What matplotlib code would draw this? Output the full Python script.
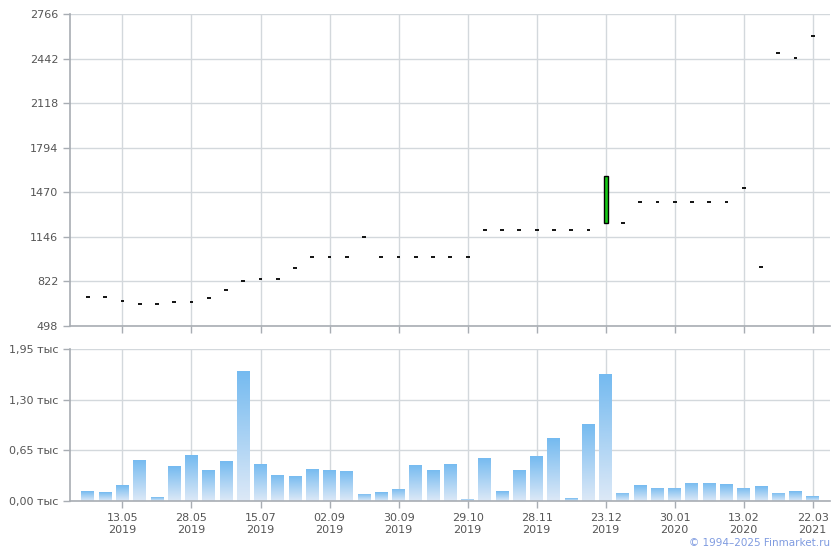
import numpy as np
import matplotlib
matplotlib.use("Agg")
import matplotlib.pyplot as plt
from matplotlib.colors import LinearSegmentedColormap

# ---- data ----
opens = [709, 709, 680, 658, 658, 672, 672, 702, 760, 825, 840, 840, 920,
         1000, 1000, 1000, 1143, 1000, 1000, 1000, 1000, 1000, 1000,
         1196, 1196, 1196, 1196, 1196, 1196, 1196, 1244, 1247,
         1400, 1400, 1400, 1400, 1400, 1400, 1499, 927, 2482, 2444, 2606]
closes = [709, 709, 680, 658, 658, 672, 672, 702, 760, 825, 840, 840, 920,
          1000, 1000, 1000, 1143, 1000, 1000, 1000, 1000, 1000, 1000,
          1196, 1196, 1196, 1196, 1196, 1196, 1196, 1586, 1247,
          1400, 1400, 1400, 1400, 1400, 1400, 1499, 927, 2482, 2444, 2606]
volumes = [0.128, 0.115, 0.205, 0.526, 0.051, 0.449, 0.590, 0.398, 0.513, 1.668,
           0.475, 0.334, 0.321, 0.411, 0.398, 0.385, 0.090, 0.115, 0.154, 0.462,
           0.398, 0.475, 0.026, 0.552, 0.128, 0.398, 0.577, 0.808, 0.038, 0.988,
           1.629, 0.103, 0.205, 0.167, 0.167, 0.231, 0.231, 0.218, 0.167, 0.192,
           0.103, 0.128, 0.064]
tick_idx = [2, 6, 10, 14, 18, 22, 26, 30, 34, 38, 42]
tick_labels = ["13.05\n2019", "28.05\n2019", "15.07\n2019", "02.09\n2019",
               "30.09\n2019", "29.10\n2019", "28.11\n2019", "23.12\n2019",
               "30.01\n2020", "13.02\n2020", "22.03\n2021"]
price_ticks = [498, 822, 1146, 1470, 1794, 2118, 2442, 2766]
vol_ticks = [0.0, 0.65, 1.30, 1.95]
vol_tick_labels = ["0,00 тыс", "0,65 тыс", "1,30 тыс", "1,95 тыс"]

plt.rcParams['font.family'] = ['DejaVu Sans']
TXT = '#555555'
GRID = '#d3d8dc'
SPINE = '#a8adb3'

fig = plt.figure(figsize=(8.4, 5.5), dpi=100)
ax1 = fig.add_axes([70/840, 1-326/550, 760/840, 312/550])
ax2 = fig.add_axes([70/840, 1-501/550, 760/840, 152/550])

x = np.arange(len(opens))
xlim = (-1.04, 43.0)

def style(ax):
    for s in ['top', 'right']:
        ax.spines[s].set_visible(False)
    for s in ['left', 'bottom']:
        ax.spines[s].set_color(SPINE)
        ax.spines[s].set_linewidth(1.2)
    ax.grid(True, color=GRID, linewidth=1)
    ax.set_axisbelow(True)
    ax.tick_params(axis='both', colors=SPINE, labelcolor=TXT, labelsize=8,
                   length=5, width=1)
    ax.set_xlim(*xlim)
    ax.set_xticks(tick_idx)

# ---- price chart ----
style(ax1)
o = np.array(opens, float)
c = np.array(closes, float)
w = 0.22
flat = o == c
ax1.hlines(o[flat], x[flat] - w/2, x[flat] + w/2, color='black', linewidth=1.3, zorder=3)
up = ~flat
ax1.bar(x[up], (c - o)[up], bottom=o[up], width=w, color='#17c917',
        edgecolor='black', linewidth=1, zorder=3)
ax1.set_ylim(498, 2766)
ax1.set_yticks(price_ticks)
ax1.set_yticklabels([str(t) for t in price_ticks])
ax1.set_xticklabels([])

# ---- volume chart ----
style(ax2)
cmap = LinearSegmentedColormap.from_list('g', ['#dde9f7', '#74baf0'])
grad = np.linspace(0, 1, 256).reshape(-1, 1)
bw = 0.75
bars = ax2.bar(x, volumes, width=bw, color='none', edgecolor='none', zorder=2)
for xi, v, b in zip(x, volumes, bars):
    im = ax2.imshow(grad, cmap=cmap, origin='lower', aspect='auto',
                    extent=[xi - bw/2, xi + bw/2, 0, v], zorder=2)
    im.set_clip_path(b)
ax2.set_xlim(*xlim)
ax2.set_ylim(0, 1.95)
ax2.set_yticks(vol_ticks)
ax2.set_yticklabels(vol_tick_labels)
ax2.set_xticklabels(tick_labels, linespacing=1.25)

fig.text(830/840, 1-543/550, "© 1994–2025 Finmarket.ru", color='#7f9be0',
         fontsize=7.5, ha='right', va='center')

fig.savefig('out.png', dpi=100)
